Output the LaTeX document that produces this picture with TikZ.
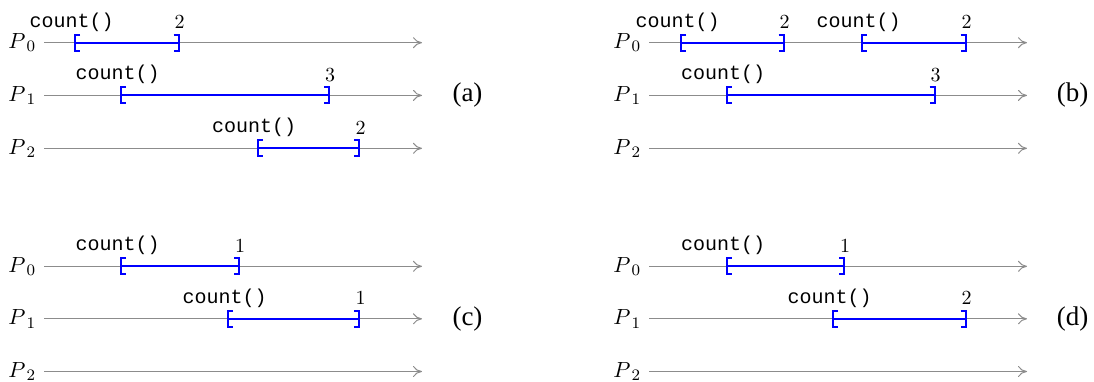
\documentclass[tikz,border=0pt]{standalone}
\usepackage{fontspec}
\newfontfamily\ttlab{Liberation Mono}
\newfontfamily\caplab{Liberation Serif}
\usetikzlibrary{arrows.meta}
\tikzset{
  timeline/.style={draw=black!45, line width=0.5pt, -{Computer Modern Rightarrow[length=4.5pt,width=5.5pt]}},
  ivlline/.style={draw=blue, line width=1pt},
  calllab/.style={font=\ttlab\fontsize{10pt}{12pt}\selectfont, anchor=base, inner sep=0pt},
  numlab/.style={font=\fontsize{10pt}{12pt}\selectfont, anchor=base, inner sep=0pt},
  proclab/.style={anchor=base east, inner sep=0pt},
  panellab/.style={font=\caplab\fontsize{13.5pt}{16pt}\selectfont, anchor=base, inner sep=0pt},
}
\newcommand\procname[1]{{\fontsize{11pt}{13pt}\selectfont$P$}\kern0.6pt\raisebox{-1.6pt}{\fontsize{8pt}{9pt}\selectfont #1}}
% #1 name, #2 x offset, #3 y, #4 process index
\newcommand\procline[4]{%
  \coordinate (#1l) at (#2+44,#3);
  \coordinate (#1r) at (#2+422,#3);
  \node[proclab] (#1p) at (#2+35.5,#3+6) {\procname{#4}};
  \draw[timeline] (#1l) -- (#1r);
}
% #1 name, #2 x1, #3 x2, #4 y, #5 number
\newcommand\ivl[5]{%
  \coordinate (#1s) at (#2,#4);
  \coordinate (#1e) at (#3,#4);
  \draw[ivlline] ([xshift=2.5pt,yshift=4pt]#1s) -- ([yshift=4pt]#1s) -- ([yshift=-4pt]#1s) -- ([xshift=2.5pt,yshift=-4pt]#1s);
  \draw[ivlline] (#1s) -- (#1e);
  \draw[ivlline] ([xshift=-2.5pt,yshift=4pt]#1e) -- ([yshift=4pt]#1e) -- ([yshift=-4pt]#1e) -- ([xshift=-2.5pt,yshift=-4pt]#1e);
  \node[calllab] (#1c) at ([xshift=-1.7pt,yshift=7.75pt]#1s) {count()};
  \node[numlab] (#1n) at ([xshift=0.6pt,yshift=7pt]#1e) {#5};
}
\begin{document}
\begin{tikzpicture}[x=0.5pt,y=-0.5pt]
\useasboundingbox (0,0) rectangle (1094,381);
% panel (a)
\procline{aP0}{0}{42.7}{0}
\procline{aP1}{0}{95.4}{1}
\procline{aP2}{0}{148.3}{2}
\ivl{aI0}{75}{178.5}{42.7}{2}
\ivl{aI1}{121}{329}{95.4}{3}
\ivl{aI2}{257.5}{359.3}{148.3}{2}
\node[panellab] (alab) at (467.5,101.5) {(a)};
% panel (b)
\procline{bP0}{605}{42.7}{0}
\procline{bP1}{605}{95.4}{1}
\procline{bP2}{605}{148.3}{2}
\ivl{bI0}{681}{783.5}{42.7}{2}
\ivl{bI1}{862}{965.5}{42.7}{2}
\ivl{bI2}{726.5}{934.5}{95.4}{3}
\node[panellab] (blab) at (1072.5,101.5) {(b)};
% panel (c)
\procline{cP0}{0}{266.3}{0}
\procline{cP1}{0}{318.8}{1}
\procline{cP2}{0}{371.5}{2}
\ivl{cI0}{121}{239}{266.3}{1}
\ivl{cI1}{228}{359.3}{318.8}{1}
\node[panellab] (clab) at (467.5,325) {(c)};
% panel (d)
\procline{dP0}{605}{266.3}{0}
\procline{dP1}{605}{318.8}{1}
\procline{dP2}{605}{371.5}{2}
\ivl{dI0}{726.5}{844}{266.3}{1}
\ivl{dI1}{833}{965.5}{318.8}{2}
\node[panellab] (dlab) at (1072.5,325) {(d)};
\end{tikzpicture}
\end{document}
